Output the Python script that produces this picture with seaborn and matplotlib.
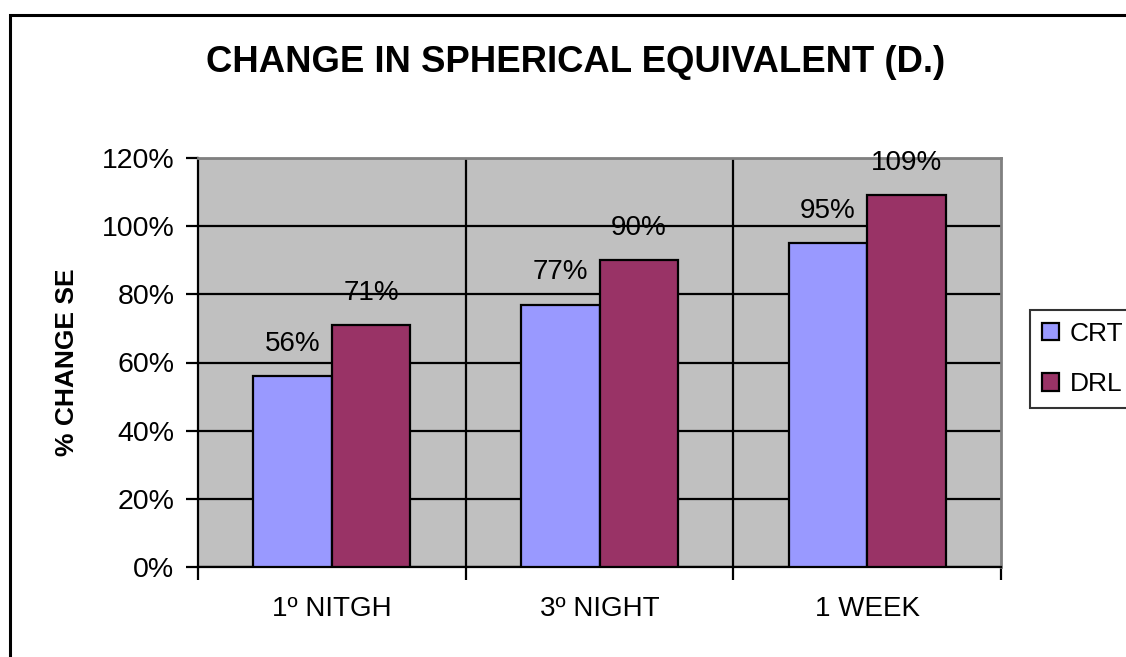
import matplotlib
matplotlib.use("Agg")
import matplotlib.pyplot as plt
from matplotlib.patches import Rectangle
from matplotlib.ticker import FixedLocator, FuncFormatter
import seaborn as sns
import pandas as pd

# Data
periods = ["1º NITGH", "3º NIGHT", "1 WEEK"]
crt_values = [56, 77, 95]
drl_values = [71, 90, 109]
series_names = ["CRT", "DRL"]
series_colors = ["#9999FF", "#993366"]

df = pd.DataFrame({
    "period": periods * 2,
    "lens": [series_names[0]] * len(periods) + [series_names[1]] * len(periods),
    "change": crt_values + drl_values,
})

sns.set_style("white")
plt.rcParams["font.family"] = ["Liberation Sans", "DejaVu Sans"]
plt.rcParams["text.color"] = "black"
plt.rcParams["axes.labelcolor"] = "black"
plt.rcParams["xtick.color"] = "black"
plt.rcParams["ytick.color"] = "black"

fig = plt.figure(figsize=(11.26, 6.57), dpi=100)
ax = fig.add_axes([198 / 1126, 90 / 657, 803 / 1126, 409 / 657])

sns.barplot(
    data=df, x="period", y="change", hue="lens",
    palette=series_colors, width=0.587, edgecolor="black", linewidth=1.6,
    saturation=1, ax=ax, legend=True, zorder=3,
)

ax.set_facecolor("#C0C0C0")
ax.set_ylim(0, 120)
ax.set_xlim(-0.5, len(periods) - 0.5)

# y axis: percent ticks with outward marks
ax.set_yticks(range(0, 121, 20))
ax.yaxis.set_major_formatter(FuncFormatter(lambda v, p: f"{v:.0f}%"))
ax.tick_params(axis="y", direction="out", length=9, width=1.6, colors="black",
               labelsize=20.5, pad=8, left=True)
ax.grid(axis="y", color="black", linewidth=1.6, zorder=0)

# x axis: tick marks at category boundaries, labels centred
bounds = [i - 0.5 for i in range(len(periods) + 1)]
ax.xaxis.set_major_locator(FixedLocator(bounds))
ax.xaxis.set_major_formatter(FuncFormatter(lambda v, p: ""))
ax.xaxis.set_minor_locator(FixedLocator(list(range(len(periods)))))
ax.set_xticklabels(periods, minor=True)
ax.tick_params(axis="x", which="major", direction="out", length=9, width=1.6,
               bottom=True, colors="black")
ax.tick_params(axis="x", which="minor", length=0, labelsize=20, pad=21)
for b in bounds[1:-1]:
    ax.axvline(b, color="black", linewidth=1.6, zorder=1)

ax.set_xlabel("")
ax.set_ylabel("% CHANGE SE", fontsize=19, fontweight="bold", labelpad=16)

for side in ["left", "bottom"]:
    ax.spines[side].set_color("black")
    ax.spines[side].set_linewidth(1.6)
for side in ["top", "right"]:
    ax.spines[side].set_visible(True)
    ax.spines[side].set_color("#808080")
    ax.spines[side].set_linewidth(2)

# value labels above bars
for cont in ax.containers:
    ax.bar_label(cont, labels=[f"{v:.0f}%" for v in cont.datavalues],
                 padding=14, fontsize=20, zorder=4)

fig.suptitle("CHANGE IN SPHERICAL EQUIVALENT (D.)", x=576 / 1126, y=1 - 62 / 657,
             va="center", fontsize=26.3, fontweight="bold")

# legend on the right, its frame running past the canvas edge
leg = ax.legend(loc="upper left", bbox_to_anchor=(1030 / 1126, 1 - 310 / 657),
                bbox_transform=fig.transFigure, fontsize=19, frameon=True,
                fancybox=False, edgecolor="black", handlelength=0.65,
                handleheight=0.65, handletextpad=0.42, borderpad=0.45,
                labelspacing=1.0, borderaxespad=0)
leg.get_frame().set_linewidth(1.5)
for h in leg.legend_handles:
    h.set_edgecolor("black")
    h.set_linewidth(1.6)

# chart-area frame
fig.patches.append(Rectangle((10 / 1126, -0.2), 1.2, 1 - 15 / 657 + 0.2,
                             transform=fig.transFigure, fill=False,
                             edgecolor="black", linewidth=2.2))

fig.savefig("out.png", dpi=100)
